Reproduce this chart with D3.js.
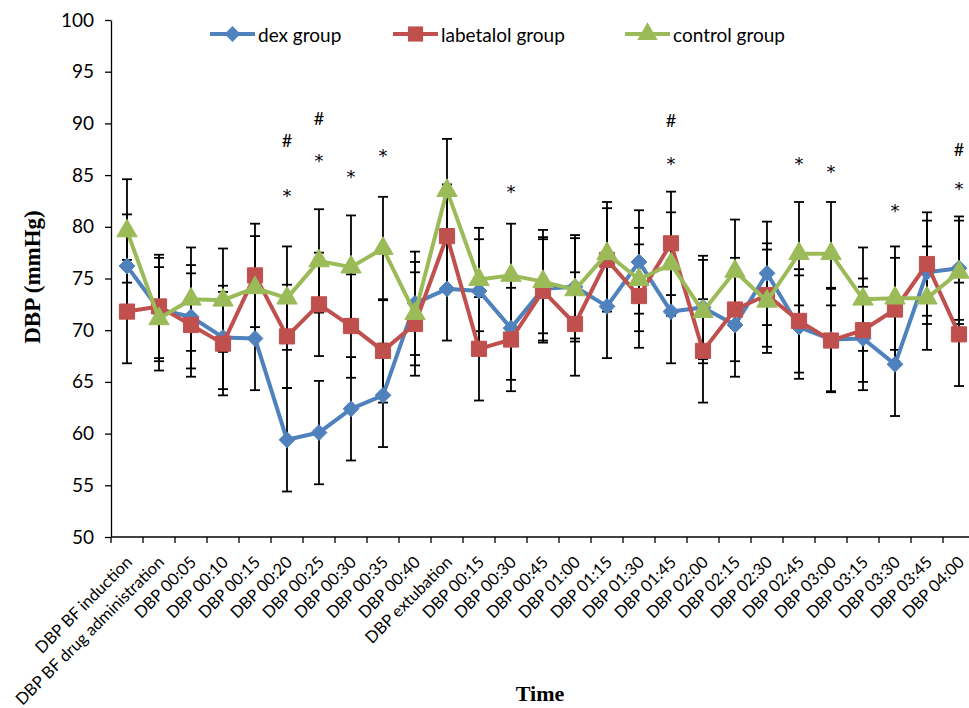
<!DOCTYPE html>
<html>
<head>
<meta charset="utf-8">
<script src="https://cdn.jsdelivr.net/npm/d3@7"></script>
<style>
  body { margin: 0; background: #fff; }
  svg { display: block; }
</style>
</head>
<body>
<div id="vis-holder"></div>
<script>
// Data
const categories = ["DBP BF induction", "DBP BF drug administration", "DBP 00:05", "DBP 00:10",
  "DBP 00:15", "DBP 00:20", "DBP 00:25", "DBP 00:30", "DBP 00:35", "DBP 00:40", "DBP extubation",
  "DBP 00:15", "DBP 00:30", "DBP 00:45", "DBP 01:00", "DBP 01:15", "DBP 01:30", "DBP 01:45",
  "DBP 02:00", "DBP 02:15", "DBP 02:30", "DBP 02:45", "DBP 03:00", "DBP 03:15", "DBP 03:30",
  "DBP 03:45", "DBP 04:00"];

const dex = [76.2, 72.0, 71.3, 69.3, 69.2, 59.4, 60.1, 62.4, 63.7, 72.6, 74.0, 73.8, 70.2, 74.0,
  74.2, 72.3, 76.6, 71.8, 72.2, 70.5, 75.5, 70.3, 69.1, 69.2, 66.7, 75.6, 76.0];
const labetalol = [71.8, 72.3, 70.5, 68.7, 75.3, 69.4, 72.5, 70.4, 68.0, 70.6, 79.1, 68.2, 69.1, 73.8,
  70.6, 76.8, 73.3, 78.4, 68.0, 72.0, 73.4, 70.9, 69.0, 70.0, 72.0, 76.4, 69.6];
const control = [79.6, 71.1, 73.0, 72.9, 74.1, 73.1, 76.7, 76.1, 77.9, 71.6, 83.5, 74.9, 75.3, 74.7,
  73.9, 77.4, 74.9, 76.4, 71.8, 75.7, 72.8, 77.4, 77.4, 73.0, 73.1, 73.1, 75.6];

// fixed error bar amount (same for every point)
const errorAmount = 5;

const yTicks = [50, 55, 60, 65, 70, 75, 80, 85, 90, 95, 100];

// significance marks: category index and height (in mmHg)
const starMarks = [[5, 83.4], [6, 86.8], [7, 85.2], [8, 87.3], [12, 83.8], [17, 86.5],
  [21, 86.5], [22, 85.7], [24, 81.9], [26, 84.1]];
const hashMarks = [[5, 88.3], [6, 90.5], [17, 90.3], [26, 87.5]];

const series = [
  { name: "dex group", values: dex, color: "#4F81BD", marker: "diamond" },
  { name: "labetalol group", values: labetalol, color: "#C0504D", marker: "square" },
  { name: "control group", values: control, color: "#9BBB59", marker: "triangle" }
];

const width = 969;
const height = 708;
const margin = { top: 20, right: -6, bottom: 171, left: 111 };

const svg = d3.select("#vis-holder")
  .append("svg")
  .attr("width", width)
  .attr("height", height);

// Scales
const x = d3.scaleBand()
  .domain(d3.range(categories.length))
  .range([margin.left, width - margin.right]);

const y = d3.scaleLinear()
  .domain([50, 100])
  .range([height - margin.bottom, margin.top]);

const cx = (i) => x(i) + x.bandwidth() / 2;

// Y axis
svg.append("g")
  .attr("transform", `translate(${margin.left},0)`)
  .call(d3.axisLeft(y).tickValues(yTicks).tickSize(6).tickSizeOuter(0).tickPadding(11))
  .call((g) => g.select(".domain").attr("stroke-width", 1.3))
  .call((g) => g.selectAll(".tick line").attr("stroke-width", 1.3))
  .call((g) => g.selectAll("text")
    .attr("font-family", "Lato, 'Open Sans', sans-serif")
    .attr("font-size", "19px")
    .attr("fill", "#000"));

// X axis: ticks sit between categories
const xAxis = svg.append("g")
  .attr("transform", `translate(0,${height - margin.bottom})`);

xAxis.append("line")
  .attr("x1", margin.left)
  .attr("x2", width - margin.right)
  .attr("stroke", "#000")
  .attr("stroke-width", 1.3);

xAxis.selectAll(".xtick")
  .data(d3.range(categories.length + 1))
  .enter()
  .append("line")
  .attr("class", "xtick")
  .attr("x1", (i) => margin.left + i * x.step())
  .attr("x2", (i) => margin.left + i * x.step())
  .attr("y1", 0)
  .attr("y2", 6)
  .attr("stroke", "#000")
  .attr("stroke-width", 1.3);

xAxis.selectAll(".xlabel")
  .data(categories)
  .enter()
  .append("text")
  .attr("class", "xlabel")
  .attr("transform", (d, i) => `translate(${cx(i) + 2},${22}) rotate(-45)`)
  .attr("text-anchor", "end")
  .attr("dominant-baseline", "central")
  .attr("font-family", "Lato, 'Open Sans', sans-serif")
  .attr("font-size", "16.5px")
  .attr("fill", "#000")
  .text((d) => d);

// Axis titles
svg.append("text")
  .attr("transform", `translate(40,${277}) rotate(-90)`)
  .attr("text-anchor", "middle")
  .attr("font-family", "'Liberation Serif', 'Times New Roman', serif")
  .attr("font-weight", "bold")
  .attr("font-size", "23px")
  .text("DBP (mmHg)");

svg.append("text")
  .attr("x", 540)
  .attr("y", 701)
  .attr("text-anchor", "middle")
  .attr("font-family", "'Liberation Serif', 'Times New Roman', serif")
  .attr("font-weight", "bold")
  .attr("font-size", "22px")
  .text("Time");

// Error bars (behind the lines)
const errG = svg.append("g").attr("stroke", "#000").attr("stroke-width", 1.8);
series.forEach((s) => {
  s.values.forEach((v, i) => {
    const px = cx(i);
    errG.append("line")
      .attr("x1", px).attr("x2", px)
      .attr("y1", y(v + errorAmount)).attr("y2", y(v - errorAmount));
    [v + errorAmount, v - errorAmount].forEach((e) => {
      errG.append("line")
        .attr("x1", px - 5).attr("x2", px + 5)
        .attr("y1", y(e)).attr("y2", y(e));
    });
  });
});

// marker symbols
const symbolFor = {
  diamond: d3.symbol().type(d3.symbolDiamond2).size(160),
  square: d3.symbol().type(d3.symbolSquare).size(230),
  triangle: d3.symbol().type(d3.symbolTriangle).size(180)
};

const line = d3.line()
  .x((d, i) => cx(i))
  .y((d) => y(d));

series.forEach((s) => {
  svg.append("path")
    .datum(s.values)
    .attr("d", line)
    .attr("fill", "none")
    .attr("stroke", s.color)
    .attr("stroke-width", 4)
    .attr("stroke-linejoin", "round");

  svg.selectAll(".m-" + s.marker)
    .data(s.values)
    .enter()
    .append("path")
    .attr("class", "m-" + s.marker)
    .attr("transform", (d, i) => `translate(${cx(i)},${y(d)})`)
    .attr("d", symbolFor[s.marker])
    .attr("fill", s.color)
    .attr("stroke", s.color)
    .attr("stroke-width", 1);
});

// significance marks
svg.selectAll(".star")
  .data(starMarks)
  .enter()
  .append("text")
  .attr("class", "star")
  .attr("x", (d) => cx(d[0]))
  .attr("y", (d) => y(d[1]))
  .attr("dy", "0.57em")
  .attr("text-anchor", "middle")
  .attr("font-family", "'DejaVu Sans', sans-serif")
  .attr("font-size", "18px")
  .text("*");

svg.selectAll(".hash")
  .data(hashMarks)
  .enter()
  .append("text")
  .attr("class", "hash")
  .attr("x", (d) => cx(d[0]))
  .attr("y", (d) => y(d[1]))
  .attr("dy", "0.36em")
  .attr("text-anchor", "middle")
  .attr("font-family", "Lato, 'Open Sans', sans-serif")
  .attr("font-size", "18px")
  .text("#");

// Legend
const legendX = [210, 393, 625];
const legend = svg.append("g");
series.forEach((s, k) => {
  const lx = legendX[k];
  legend.append("line")
    .attr("x1", lx).attr("x2", lx + 45)
    .attr("y1", 34).attr("y2", 34)
    .attr("stroke", s.color)
    .attr("stroke-width", 4);
  legend.append("path")
    .attr("transform", `translate(${lx + 22.5},34)`)
    .attr("d", symbolFor[s.marker])
    .attr("fill", s.color);
  legend.append("text")
    .attr("x", lx + 48)
    .attr("y", 34)
    .attr("dominant-baseline", "central")
    .attr("font-family", "Lato, 'Open Sans', sans-serif")
    .attr("font-size", "19px")
    .text(s.name);
});
</script>
</body>
</html>
